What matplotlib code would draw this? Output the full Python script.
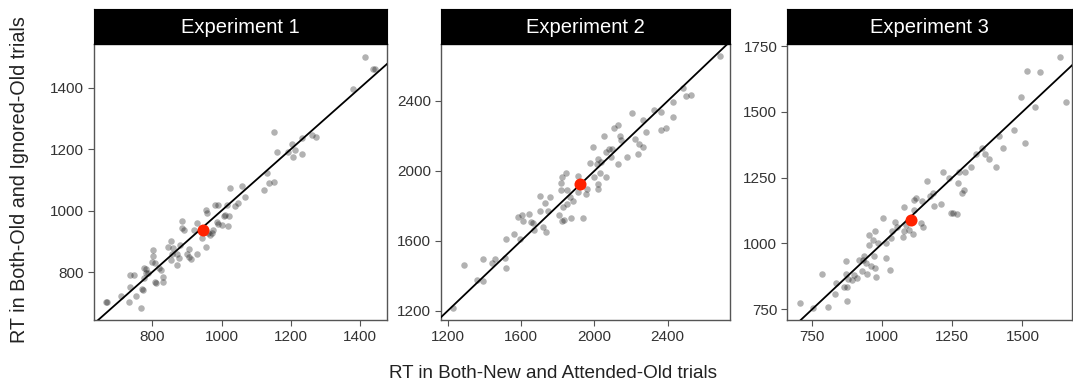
"""Per-participant RT comparison across three experiments (identity line + grand mean)."""

import matplotlib
matplotlib.use("Agg")
import matplotlib.pyplot as plt
import numpy as np

plt.rcParams["font.family"] = ["Liberation Sans", "DejaVu Sans"]

titles = ["Experiment 1", "Experiment 2", "Experiment 3"]

# Experiment 1: (x = Both-New/Attended-Old RT, y = Both-Old/Ignored-Old RT)
exp1_x = [670, 668, 710, 736, 733, 737, 753, 748, 771, 772, 767, 776, 777, 783, 783, 788,
          801, 801, 798, 808, 808, 812, 820, 824, 831, 831, 844, 855, 860, 854, 858, 870,
          872, 877, 879, 887, 887, 892, 899, 905, 906, 911, 920, 929, 929, 944, 954, 957,
          956, 961, 967, 971, 976, 981, 991, 986, 991, 1001, 1009, 1006, 1021, 1019, 1023,
          1016, 1040, 1048, 1060, 1067, 1123, 1130, 1138, 1150, 1151, 1159, 1192, 1203,
          1205, 1211, 1233, 1233, 1262, 1272, 1380, 1414, 1437, 1442]
exp1_y = [703, 701, 722, 790, 703, 750, 722, 790, 744, 740, 682, 782, 814, 809, 796, 798,
          872, 852, 834, 828, 769, 765, 812, 807, 785, 769, 880, 901, 877, 839, 860, 860,
          823, 845, 888, 967, 942, 937, 860, 849, 874, 844, 937, 961, 860, 912, 1002, 991,
          880, 926, 921, 926, 937, 1018, 1018, 964, 956, 953, 986, 983, 983, 950, 1074,
          1018, 1015, 1026, 1080, 1045, 1067, 1121, 1090, 1094, 1257, 1192, 1192, 1217,
          1174, 1196, 1184, 1235, 1246, 1238, 1395, 1501, 1460, 1460]

exp2_x = [1231, 1291, 1358, 1391, 1391, 1440, 1458, 1513, 1515, 1515, 1562, 1582, 1595,
          1604, 1613, 1645, 1653, 1664, 1671, 1704, 1704, 1718, 1729, 1735, 1745, 1756,
          1807, 1816, 1816, 1822, 1824, 1829, 1836, 1844, 1849, 1853, 1867, 1873, 1885,
          1909, 1913, 1936, 1958, 1953, 1976, 1995, 2000, 2013, 2018, 2022, 2022, 2031,
          2036, 2055, 2062, 2062, 2082, 2091, 2098, 2109, 2127, 2131, 2140, 2144, 2176,
          2207, 2222, 2240, 2244, 2267, 2267, 2282, 2325, 2364, 2364, 2389, 2431, 2431,
          2482, 2500, 2527, 2685]
exp2_y = [1213, 1461, 1376, 1370, 1498, 1471, 1498, 1503, 1444, 1612, 1637, 1734, 1608,
          1748, 1713, 1753, 1709, 1700, 1662, 1858, 1772, 1681, 1818, 1652, 1770, 1849,
          1748, 1929, 1891, 1963, 1715, 1792, 1719, 1986, 1891, 1811, 1853, 1732, 1830,
          1973, 1881, 1728, 1896, 1868, 2043, 2139, 1963, 2040, 1896, 2067, 1923, 1990,
          2049, 2197, 1967, 2110, 2123, 2081, 2123, 2247, 2037, 2263, 2200, 2177, 2081,
          2329, 2180, 2095, 2154, 2139, 2291, 2224, 2348, 2335, 2234, 2243, 2306, 2396,
          2472, 2429, 2434, 2657]

exp3_x = [705, 752, 786, 807, 830, 836, 865, 871, 871, 873, 875, 877, 891, 900, 910, 916,
          928, 930, 934, 942, 946, 954, 954, 960, 966, 969, 974, 975, 977, 983, 1002, 1013,
          1013, 1029, 1031, 1035, 1046, 1052, 1073, 1076, 1079, 1085, 1096, 1108, 1112,
          1114, 1122, 1137, 1143, 1146, 1159, 1170, 1180, 1183, 1209, 1215, 1239, 1245,
          1251, 1266, 1269, 1272, 1283, 1292, 1295, 1318, 1335, 1357, 1366, 1381, 1405,
          1417, 1432, 1470, 1496, 1508, 1518, 1544, 1562, 1633, 1654]
exp3_y = [775, 754, 884, 758, 808, 849, 834, 935, 883, 834, 783, 864, 861, 879, 868, 937,
          897, 937, 953, 925, 884, 1032, 994, 915, 1013, 953, 1049, 906, 872, 1003, 1096,
          944, 1003, 899, 1020, 1049, 1083, 1064, 1023, 1137, 1049, 1070, 1051, 1036, 1165,
          1127, 1174, 1077, 1162, 1064, 1239, 1180, 1193, 1142, 1150, 1270, 1247, 1115,
          1117, 1111, 1228, 1273, 1193, 1203, 1270, 1292, 1340, 1361, 1340, 1321, 1289,
          1408, 1361, 1431, 1558, 1380, 1656, 1517, 1653, 1709, 1539]

# grand means (red dots)
mean_x = [946, 1922, 1102]
mean_y = [937, 1923, 1089]

xlims = [(632, 1477), (1163, 2740), (660, 1677)]
ylims = [(644, 1542), (1147, 2726), (709, 1758)]
xticks = [[800, 1000, 1200, 1400], [1200, 1600, 2000, 2400], [750, 1000, 1250, 1500]]
yticks = [[800, 1000, 1200, 1400], [1200, 1600, 2000, 2400], [750, 1000, 1250, 1500, 1750]]

W, H = 1073, 387
fig = plt.figure(figsize=(W / 100, H / 100), dpi=100)

lefts = [94, 441, 787]
rights = [387, 730, 1072]
top_px, strip_px, bottom_px = 9, 44, 320

data = [(exp1_x, exp1_y), (exp2_x, exp2_y), (exp3_x, exp3_y)]
edge = "#555555"
for i, (xs, ys) in enumerate(data):
    l, r = lefts[i], rights[i]
    ax = fig.add_axes([l / W, (H - bottom_px) / H, (r - l) / W, (bottom_px - strip_px) / H])
    ax.scatter(xs, ys, s=22, color="black", alpha=0.3, linewidths=0, zorder=2)
    lo = min(xlims[i][0], ylims[i][0])
    hi = max(xlims[i][1], ylims[i][1])
    ax.plot([lo, hi], [lo, hi], color="black", lw=1.3, zorder=3)
    ax.scatter([mean_x[i]], [mean_y[i]], s=75, color="#ff2200", linewidths=0, zorder=4)
    ax.set_xlim(xlims[i])
    ax.set_ylim(ylims[i])
    ax.set_xticks(xticks[i])
    ax.set_yticks(yticks[i])
    for sp in ax.spines.values():
        sp.set_color(edge)
        sp.set_linewidth(1.0)
    ax.tick_params(colors=edge, labelcolor="#333333", labelsize=11, length=4, width=0.8, pad=3)

    strip = fig.add_axes([l / W, (H - strip_px) / H, (r - l) / W, (strip_px - top_px) / H])
    strip.set_facecolor("black")
    strip.set_xticks([])
    strip.set_yticks([])
    for sp in strip.spines.values():
        sp.set_color("black")
    strip.text(0.5, 0.48, titles[i], color="white", fontsize=14.5, ha="center", va="center",
               transform=strip.transAxes)

fig.text(553 / W, 1 - 373 / H, "RT in Both-New and Attended-Old trials", ha="center",
         va="center", fontsize=13.6, color="#222222")
fig.text(20 / W, 1 - 180 / H, "RT in Both-Old and Ignored-Old trials", ha="center",
         va="center", rotation=90, fontsize=14.2, color="#222222")

fig.savefig("out.png", dpi=100)
